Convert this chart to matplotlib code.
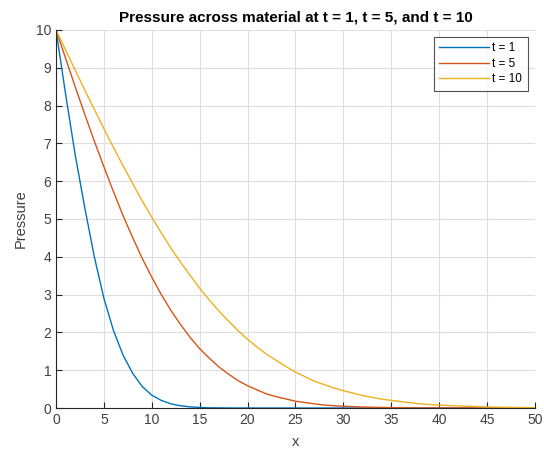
import matplotlib
matplotlib.use("Agg")
import matplotlib.pyplot as plt

# values
x = [0, 1, 2, 3, 4, 5, 6, 7, 8, 9, 10, 11, 12, 13, 14, 15, 16, 17, 18, 19, 20,
     21, 22, 23, 24, 25, 26, 27, 28, 29, 30, 32, 34, 36, 38, 40, 45, 50]
p_t1 = [10, 8.3, 6.7, 5.3, 4.0, 2.9, 2.05, 1.4, 0.92, 0.57, 0.34, 0.2, 0.11,
        0.06, 0.03, 0.015, 0.005, 0.003, 0.001, 0.0005, 0, 0, 0, 0, 0, 0, 0,
        0, 0, 0, 0, 0, 0, 0, 0, 0, 0, 0]
p_t5 = [10, 9.25, 8.5, 7.77, 7.06, 6.38, 5.72, 5.09, 4.51, 3.96, 3.46, 3.0,
        2.58, 2.21, 1.87, 1.57, 1.32, 1.09, 0.9, 0.725, 0.59, 0.48, 0.37, 0.3,
        0.24, 0.18, 0.145, 0.11, 0.08, 0.06, 0.047, 0.026, 0.014, 0.007,
        0.0035, 0.002, 0.0005, 0]
p_t10 = [10, 9.47, 8.94, 8.41, 7.9, 7.39, 6.89, 6.41, 5.94, 5.48, 5.05, 4.63,
         4.23, 3.86, 3.51, 3.17, 2.86, 2.57, 2.3, 2.05, 1.82, 1.61, 1.42, 1.26,
         1.1, 0.95, 0.83, 0.705, 0.62, 0.53, 0.46, 0.33, 0.235, 0.17, 0.11,
         0.075, 0.027, 0.0075]
labels = ["t = 1", "t = 5", "t = 10"]

plt.rcParams['font.family'] = ['Liberation Sans', 'DejaVu Sans']

fig = plt.figure(figsize=(5.44, 4.54), dpi=100)
ax = fig.add_axes([0.103, 0.1013, 0.880, 0.8327])

ax.plot(x, p_t1, color='#0072BD', linewidth=1.0, label=labels[0])
ax.plot(x, p_t5, color='#D95319', linewidth=1.0, label=labels[1])
ax.plot(x, p_t10, color='#EDB120', linewidth=1.0, label=labels[2])

ax.set_xlim(0, 50)
ax.set_ylim(0, 10)
ax.set_xticks(range(0, 51, 5))
ax.set_yticks(range(0, 11))
ax.grid(True, color='#dedede', linewidth=0.8)
ax.set_axisbelow(True)

for side in ['top', 'right']:
    ax.spines[side].set_visible(False)
for side in ['left', 'bottom']:
    ax.spines[side].set_color('#262626')
    ax.spines[side].set_linewidth(0.8)
ax.tick_params(direction='in', length=4, width=0.8, colors='#262626',
               labelsize=10, labelcolor='#404040')

ax.set_xlabel('x', fontsize=10.5, color='#404040', labelpad=6)
ax.set_ylabel('Pressure', fontsize=10.5, color='#404040', labelpad=6)
ax.set_title('Pressure across material at t = 1, t = 5, and t = 10',
             fontsize=11, fontweight='bold', pad=6)

leg = ax.legend(loc='upper right', fontsize=8.5, frameon=True, fancybox=False,
                handlelength=4.2, handletextpad=0.3, borderpad=0.45,
                labelspacing=0.3, borderaxespad=0.6)
leg.get_frame().set_edgecolor('#262626')
leg.get_frame().set_linewidth(0.8)

fig.savefig('out.png', dpi=100)
